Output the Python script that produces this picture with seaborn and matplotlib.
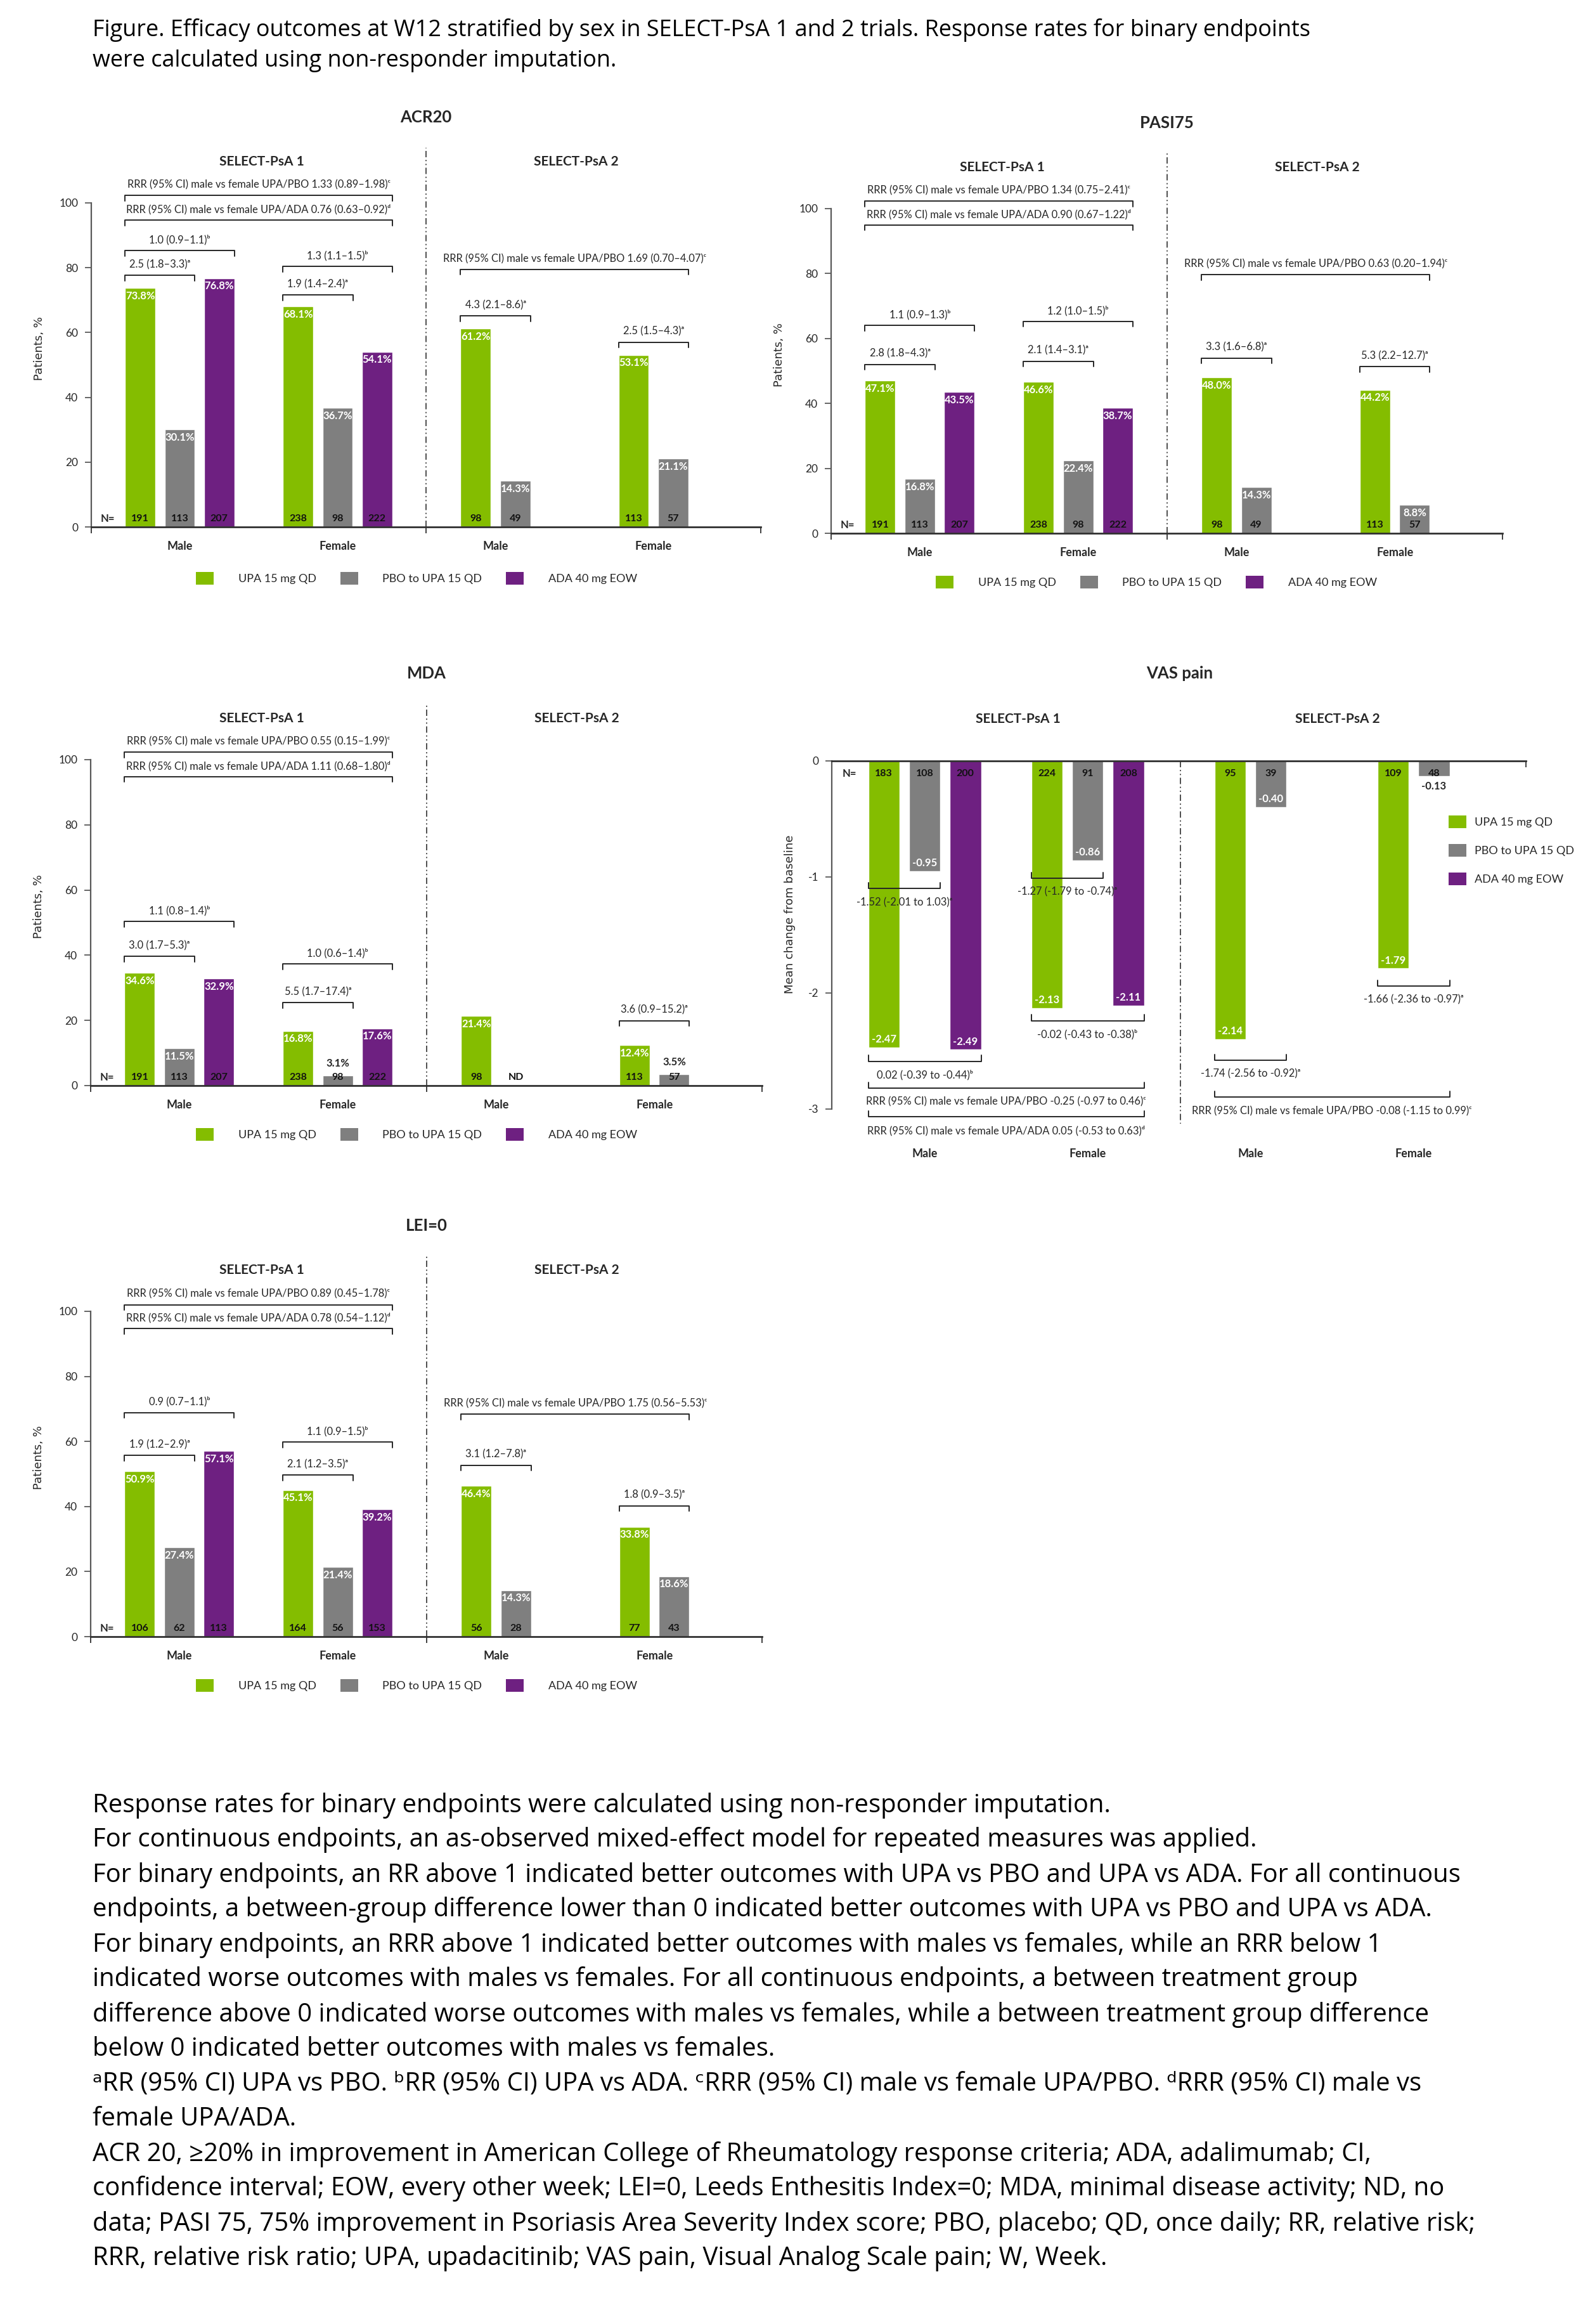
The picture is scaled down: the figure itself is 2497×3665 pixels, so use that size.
import numpy as np
import pandas as pd
import seaborn as sns
import matplotlib.pyplot as plt
from matplotlib.patches import Patch

sns.set_theme(style='white')
plt.rcParams['font.family'] = ['Lato', 'DejaVu Sans']
plt.rcParams['axes.unicode_minus'] = False

W, H, DPI = 2497, 3665, 100

# ---- data -------------------------------------------------------------
treatments = ['UPA 15 mg QD', 'PBO to UPA 15 QD', 'ADA 40 mg EOW']
colors = ['#84bd00', '#7f7f7f', '#6e2081']
sexes = ['Male', 'Female', 'Male', 'Female']

# bar order: PsA1 male UPA/PBO/ADA, PsA1 female UPA/PBO/ADA, PsA2 male UPA/PBO, PsA2 female UPA/PBO
bar_treatment = [0, 1, 2, 0, 1, 2, 0, 1, 0, 1]

acr20_pct = [73.8, 30.1, 76.8, 68.1, 36.7, 54.1, 61.2, 14.3, 53.1, 21.1]
acr20_n = [191, 113, 207, 238, 98, 222, 98, 49, 113, 57]

pasi75_pct = [47.1, 16.8, 43.5, 46.6, 22.4, 38.7, 48.0, 14.3, 44.2, 8.8]
pasi75_n = [191, 113, 207, 238, 98, 222, 98, 49, 113, 57]

mda_pct = [34.6, 11.5, 32.9, 16.8, 3.1, 17.6, 21.4, np.nan, 12.4, 3.5]
mda_n = [191, 113, 207, 238, 98, 222, 98, 'ND', 113, 57]

lei_pct = [50.9, 27.4, 57.1, 45.1, 21.4, 39.2, 46.4, 14.3, 33.8, 18.6]
lei_n = [106, 62, 113, 164, 56, 153, 56, 28, 77, 43]

vas_change = [-2.47, -0.95, -2.49, -2.13, -0.86, -2.11, -2.40, -0.40, -1.79, -0.13]
vas_label = ['-2.47', '-0.95', '-2.49', '-2.13', '-0.86', '-2.11', '-2.14', '-0.40', '-1.79', '-0.13']
vas_n = [183, 108, 200, 224, 91, 208, 95, 39, 109, 48]

# brackets: (first bar, last bar, height, text)
acr20_notes = [
    (0, 5, 102.3, 'RRR (95% CI) male vs female UPA/PBO 1.33 (0.89–1.98)ᶜ'),
    (0, 5, 94.7, 'RRR (95% CI) male vs female UPA/ADA 0.76 (0.63–0.92)ᵈ'),
    (0, 2, 85.3, '1.0 (0.9–1.1)ᵇ'),
    (0, 1, 77.7, '2.5 (1.8–3.3)ᵃ'),
    (3, 5, 80.4, '1.3 (1.1–1.5)ᵇ'),
    (3, 4, 71.6, '1.9 (1.4–2.4)ᵃ'),
    (6, 9, 79.5, 'RRR (95% CI) male vs female UPA/PBO 1.69 (0.70–4.07)ᶜ'),
    (6, 7, 65.2, '4.3 (2.1–8.6)ᵃ'),
    (8, 9, 57.0, '2.5 (1.5–4.3)ᵃ'),
]
pasi75_notes = [
    (0, 5, 102.3, 'RRR (95% CI) male vs female UPA/PBO 1.34 (0.75–2.41)ᶜ'),
    (0, 5, 95.0, 'RRR (95% CI) male vs female UPA/ADA 0.90 (0.67–1.22)ᵈ'),
    (0, 2, 64.0, '1.1 (0.9–1.3)ᵇ'),
    (0, 1, 52.0, '2.8 (1.8–4.3)ᵃ'),
    (3, 5, 65.3, '1.2 (1.0–1.5)ᵇ'),
    (3, 4, 53.0, '2.1 (1.4–3.1)ᵃ'),
    (6, 9, 79.7, 'RRR (95% CI) male vs female UPA/PBO 0.63 (0.20–1.94)ᶜ'),
    (6, 7, 54.0, '3.3 (1.6–6.8)ᵃ'),
    (8, 9, 51.4, '5.3 (2.2–12.7)ᵃ'),
]
mda_notes = [
    (0, 5, 102.3, 'RRR (95% CI) male vs female UPA/PBO 0.55 (0.15–1.99)ᶜ'),
    (0, 5, 94.8, 'RRR (95% CI) male vs female UPA/ADA 1.11 (0.68–1.80)ᵈ'),
    (0, 2, 50.4, '1.1 (0.8–1.4)ᵇ'),
    (0, 1, 39.7, '3.0 (1.7–5.3)ᵃ'),
    (3, 5, 37.3, '1.0 (0.6–1.4)ᵇ'),
    (3, 4, 25.4, '5.5 (1.7–17.4)ᵃ'),
    (8, 9, 19.9, '3.6 (0.9–15.2)ᵃ'),
]
lei_notes = [
    (0, 5, 102.0, 'RRR (95% CI) male vs female UPA/PBO 0.89 (0.45–1.78)ᶜ'),
    (0, 5, 94.7, 'RRR (95% CI) male vs female UPA/ADA 0.78 (0.54–1.12)ᵈ'),
    (0, 2, 68.9, '0.9 (0.7–1.1)ᵇ'),
    (0, 1, 55.7, '1.9 (1.2–2.9)ᵃ'),
    (3, 5, 59.8, '1.1 (0.9–1.5)ᵇ'),
    (3, 4, 49.7, '2.1 (1.2–3.5)ᵃ'),
    (6, 9, 68.4, 'RRR (95% CI) male vs female UPA/PBO 1.75 (0.56–5.53)ᶜ'),
    (6, 7, 52.7, '3.1 (1.2–7.8)ᵃ'),
    (8, 9, 40.2, '1.8 (0.9–3.5)ᵃ'),
]
vas_notes = [
    (0, 1, -1.10, '-1.52 (-2.01 to 1.03)ᵃ'),
    (3, 4, -1.01, '-1.27 (-1.79 to -0.74)ᵃ'),
    (0, 2, -2.59, '0.02 (-0.39 to -0.44)ᵇ'),
    (3, 5, -2.24, '-0.02 (-0.43 to -0.38)ᵇ'),
    (0, 5, -2.82, 'RRR (95% CI) male vs female UPA/PBO -0.25 (-0.97 to 0.46)ᶜ'),
    (0, 5, -3.07, 'RRR (95% CI) male vs female UPA/ADA 0.05 (-0.53 to 0.63)ᵈ'),
    (6, 7, -2.58, '-1.74 (-2.56 to -0.92)ᵃ'),
    (8, 9, -1.94, '-1.66 (-2.36 to -0.97)ᵃ'),
    (6, 9, -2.90, 'RRR (95% CI) male vs female UPA/PBO -0.08 (-1.15 to 0.99)ᶜ'),
]

caption_top = [
    'Figure. Efficacy outcomes at W12 stratified by sex in SELECT-PsA 1 and 2 trials. Response rates for binary endpoints',
    'were calculated using non-responder imputation.',
]
caption_bottom = [
    'Response rates for binary endpoints were calculated using non-responder imputation.',
    'For continuous endpoints, an as-observed mixed-effect model for repeated measures was applied.',
    'For binary endpoints, an RR above 1 indicated better outcomes with UPA vs PBO and UPA vs ADA. For all continuous',
    'endpoints, a between-group difference lower than 0 indicated better outcomes with UPA vs PBO and UPA vs ADA.',
    'For binary endpoints, an RRR above 1 indicated better outcomes with males vs females, while an RRR below 1',
    'indicated worse outcomes with males vs females. For all continuous endpoints, a between treatment group',
    'difference above 0 indicated worse outcomes with males vs females, while a between treatment group difference',
    'below 0 indicated better outcomes with males vs females.',
    'ᵃRR (95% CI) UPA vs PBO. ᵇRR (95% CI) UPA vs ADA. ᶜRRR (95% CI) male vs female UPA/PBO. ᵈRRR (95% CI) male vs',
    'female UPA/ADA.',
    'ACR 20, ≥20% in improvement in American College of Rheumatology response criteria; ADA, adalimumab; CI,',
    'confidence interval; EOW, every other week; LEI=0, Leeds Enthesitis Index=0; MDA, minimal disease activity; ND, no',
    'data; PASI 75, 75% improvement in Psoriasis Area Severity Index score; PBO, placebo; QD, once daily; RR, relative risk;',
    'RRR, relative risk ratio; UPA, upadacitinib; VAS pain, Visual Analog Scale pain; W, Week.',
]

# ---- layout -----------------------------------------------------------
GROUP = np.array([0, 0, 0, 1, 1, 1, 2, 2, 3, 3])
OFFSET = np.array([-0.25, 0, 0.25, -0.25, 0, 0.25, -0.125, 0.125, -0.125, 0.125])
XPOS = GROUP + OFFSET
BAR_W = 0.77 * 0.25
PALETTE = dict(zip(treatments, colors))
INK = '#262626'
DIVIDER = (0, (6, 2.5, 1.2, 2.5, 1.2, 2.5))
CAPTION_FONT = ['Open Sans', 'DejaVu Sans']

fig = plt.figure(figsize=(W / DPI, H / DPI), dpi=DPI)


def add_axes(l, t, r, b):
    return fig.add_axes([l / W, 1 - b / H, (r - l) / W, (b - t) / H])


def bar_frame(values):
    return pd.DataFrame({'pos': XPOS, 'value': values,
                         'treatment': [treatments[i] for i in bar_treatment]})


def draw_bars(ax, values):
    df = bar_frame(values).dropna(subset=['value'])
    sns.barplot(data=df, x='pos', y='value', hue='treatment', hue_order=treatments,
                palette=PALETTE, native_scale=True, width=0.77, errorbar=None,
                saturation=1, legend=False, orient='x', ax=ax)


def bracket(ax, i, j, y, text, tick, dy):
    x0 = XPOS[i] - BAR_W / 2
    x1 = XPOS[j] + BAR_W / 2
    ax.plot([x0, x0, x1, x1], [y + tick, y, y, y + tick], color=INK, lw=1.4, clip_on=False)
    ax.text((x0 + x1) / 2, y + dy, text, ha='center', va='center', fontsize=11.9,
            color=INK, clip_on=False)


def add_legend(ax, x, y, ncol=3, loc='center', spacing=0.5, textpad=2.15):
    handles = [Patch(facecolor=c, edgecolor='none', label=t) for t, c in zip(treatments, colors)]
    ax.legend(handles=handles, loc=loc, bbox_to_anchor=(x / W, 1 - y / H),
              bbox_transform=fig.transFigure, ncol=ncol, frameon=False, fontsize=13,
              handlelength=1.55, handleheight=1.33, handletextpad=textpad,
              columnspacing=2.1, borderpad=0, borderaxespad=0, labelspacing=spacing)


def pct_panel(rect, title, values, counts, notes, legend_xy):
    ax = add_axes(*rect)
    draw_bars(ax, values)
    ax.set_xlim(-0.56, 3.68)
    ax.set_ylim(0, 100)
    sns.despine(ax=ax)
    ax.spines['bottom'].set(linewidth=2.0, color='#303030')
    ax.spines['left'].set(linewidth=1.6, color='#595959')
    ax.set_yticks(range(0, 101, 20))
    ax.set_xticks([-0.56, 1.56, 3.68])
    ax.set_xticklabels([])
    ax.tick_params(axis='y', left=True, length=7, width=1.3, color='#595959',
                   labelsize=12.5, labelcolor=INK, pad=8)
    ax.tick_params(axis='x', bottom=True, length=7, width=1.3, color='#303030')
    ax.set_xlabel('')
    ax.set_ylabel('Patients, %', fontfamily='DejaVu Sans', fontsize=13, color=INK)
    ax.yaxis.set_label_coords(-0.069, 0.55)

    for x, v, n in zip(XPOS, values, counts):
        ax.text(x, 2.5, str(n), ha='center', va='center', fontsize=11.5,
                fontweight='bold', color='#111111')
        if np.isnan(v):
            continue
        if v < 6:
            ax.text(x, v + 3.7, f'{v:.1f}%', ha='center', va='center', fontsize=12,
                    fontweight='bold', color=INK)
        else:
            ax.text(x, v - 2.5, f'{v:.1f}%', ha='center', va='center', fontsize=12,
                    fontweight='bold', color='white')
    ax.text(-0.455, 2.5, 'N=', ha='center', va='center', fontsize=12, fontweight='bold', color=INK)

    for g, s in enumerate(sexes):
        ax.annotate(s, xy=(g, 0), xycoords=('data', 'axes fraction'), xytext=(0, -22),
                    textcoords='offset points', ha='center', va='center', fontsize=13,
                    fontweight='bold', color=INK, annotation_clip=False)

    ax.plot([1.56, 1.56], [0, 117], color='#303030', lw=1.2, ls=DIVIDER, clip_on=False)
    ax.text(0.52, 112.7, 'SELECT-PsA 1', ha='center', va='center', fontsize=15, fontweight='bold', color=INK)
    ax.text(2.51, 112.7, 'SELECT-PsA 2', ha='center', va='center', fontsize=15, fontweight='bold', color=INK)
    ax.text(1.56, 126.4, title, ha='center', va='center', fontsize=18.5, fontweight='bold', color=INK)

    for i, j, y, text in notes:
        bracket(ax, i, j, y, text, -1.7, 3.3)
    add_legend(ax, *legend_xy)
    return ax


pct_panel((144, 320, 1200, 831), 'ACR20', acr20_pct, acr20_n, acr20_notes, (657, 912))
pct_panel((1311, 329, 2370, 841), 'PASI75', pasi75_pct, pasi75_n, pasi75_notes, (1824, 918))
pct_panel((143, 1198, 1202, 1712), 'MDA', mda_pct, mda_n, mda_notes, (657, 1789))
pct_panel((143, 2068, 1202, 2581), 'LEI=0', lei_pct, lei_n, lei_notes, (657, 2658))

# ---- VAS pain (continuous) -------------------------------------------
ax = add_axes(1312, 1200, 2407, 1748.6)
draw_bars(ax, vas_change)
ax.set_xlim(-0.57, 3.69)
ax.set_ylim(-3, 0)
for side in ['bottom', 'right']:
    ax.spines[side].set_visible(False)
ax.spines['top'].set(linewidth=2.0, color='#303030')
ax.spines['left'].set(linewidth=1.6, color='#595959')
ax.set_yticks([0, -1, -2, -3])
ax.set_yticklabels(['0', '-1', '-2', '-3'])
ax.set_xticks([3.69])
ax.set_xticklabels([])
ax.xaxis.set_ticks_position('top')
ax.tick_params(axis='x', top=True, direction='in', length=7, width=1.3, color='#303030')
ax.tick_params(axis='y', left=True, length=7, width=1.3, color='#595959',
               labelsize=12.5, labelcolor=INK, pad=8)
ax.set_xlabel('')
ax.set_ylabel('Mean change from baseline', fontfamily='DejaVu Sans', fontsize=13, color=INK)
ax.yaxis.set_label_coords(-0.052, 0.56)

for x, v, lab, n in zip(XPOS, vas_change, vas_label, vas_n):
    ax.text(x, -0.107, str(n), ha='center', va='center', fontsize=11.5,
            fontweight='bold', color='#111111')
    if abs(v) < 0.2:
        ax.text(x, v - 0.09, lab, ha='center', va='center', fontsize=12,
                fontweight='bold', color=INK)
    else:
        ax.text(x, v + 0.07, lab, ha='center', va='center', fontsize=12,
                fontweight='bold', color='white')
ax.text(-0.46, -0.107, 'N=', ha='center', va='center', fontsize=12, fontweight='bold', color=INK)

for g, s in enumerate(sexes):
    ax.annotate(s, xy=(g, 0), xycoords=('data', 'axes fraction'), xytext=(0, -51),
                textcoords='offset points', ha='center', va='center', fontsize=13,
                fontweight='bold', color=INK, annotation_clip=False)

ax.plot([1.568, 1.568], [0, -3.13], color='#303030', lw=1.2, ls=DIVIDER, clip_on=False)
ax.text(0.572, 0.359, 'SELECT-PsA 1', ha='center', va='center', fontsize=15, fontweight='bold', color=INK)
ax.text(2.533, 0.359, 'SELECT-PsA 2', ha='center', va='center', fontsize=15, fontweight='bold', color=INK)
ax.text(1.564, 0.752, 'VAS pain', ha='center', va='center', fontsize=18.5, fontweight='bold', color=INK)

for i, j, y, text in vas_notes:
    bracket(ax, i, j, y, text, 0.05, -0.12)
add_legend(ax, 2285, 1341, ncol=1, loc='center left', spacing=1.4, textpad=0.7)

# ---- captions ---------------------------------------------------------
for k, line in enumerate(caption_top):
    fig.text(146 / W, 1 - (47 + 49 * k) / H, line, ha='left', va='center', fontsize=25.9,
             color='black', family=CAPTION_FONT)
for k, line in enumerate(caption_bottom):
    fig.text(146 / W, 1 - (2847 + 55 * k) / H, line, ha='left', va='center', fontsize=28.8,
             color='black', family=CAPTION_FONT)

fig.savefig('out.png', dpi=DPI, facecolor='white')
